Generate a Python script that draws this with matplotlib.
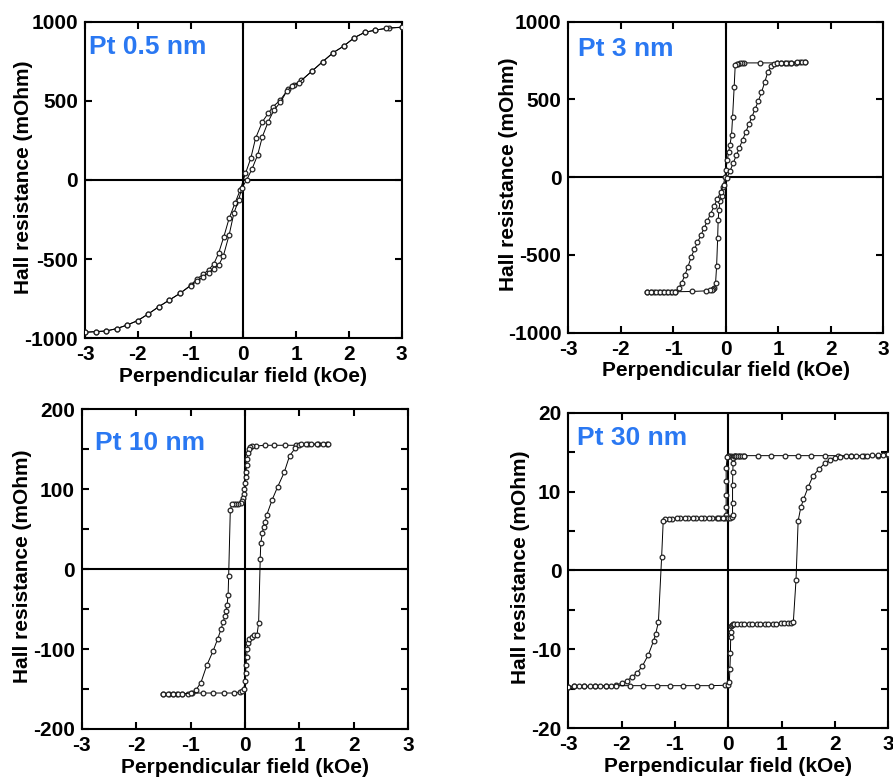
import matplotlib
matplotlib.use("Agg")
import matplotlib.pyplot as plt
from matplotlib.ticker import MultipleLocator

plt.rcParams["font.family"] = ["Liberation Sans", "DejaVu Sans"]
plt.rcParams["font.weight"] = "bold"
plt.rcParams["axes.unicode_minus"] = False

# ---- Pt 0.5 nm ----
p05_down_x = [3.0, 2.75, 2.5, 2.3, 2.1, 1.9, 1.7, 1.5, 1.3, 1.1, 0.95, 0.85, 0.7, 0.56, 0.47,
              0.36, 0.23, 0.14, 0.04, -0.06, -0.16, -0.27, -0.37, -0.47, -0.56, -0.66, -0.76,
              -0.88, -1.0, -1.2, -1.4, -1.6, -1.8, -2.0, -2.2, -2.4, -2.6, -2.8, -3.0]
p05_down_y = [964, 960, 947, 933, 899, 846, 804, 747, 688, 630, 598, 575, 505, 463, 421,
              368, 263, 137, 42, -63, -147, -242, -358, -463, -530, -568, -595,
              -625, -665, -716, -758, -800, -846, -888, -916, -939, -954, -958, -962]
p05_up_x = [-3.0, -2.8, -2.6, -2.4, -2.2, -2.0, -1.8, -1.6, -1.4, -1.2, -1.0, -0.88, -0.76, -0.66,
            -0.56, -0.47, -0.38, -0.27, -0.18, -0.09, -0.03, 0.06, 0.16, 0.27, 0.36, 0.47, 0.58,
            0.7, 0.82, 0.92, 1.05, 1.3, 1.5, 1.7, 1.9, 2.1, 2.3, 2.5, 2.7, 3.0]
p05_up_y = [-962, -958, -954, -939, -916, -888, -846, -800, -758, -716, -668, -640, -610, -585,
            -560, -540, -480, -347, -210, -126, -52, 0, 67, 158, 274, 368, 442,
            490, 560, 595, 615, 688, 747, 804, 846, 899, 933, 947, 958, 966]

# ---- Pt 3 nm ----
p3_down_x = [1.5, 1.42, 1.33, 1.25, 1.18, 1.12, 1.05, 0.98, 0.65, 0.35, 0.3, 0.27, 0.24, 0.21,
             0.18, 0.16, 0.13, 0.11, 0.08, 0.055, 0.03, 0.0, -0.015, -0.05, -0.08, -0.11, -0.13,
             -0.145, -0.155, -0.175, -0.195, -0.22, -0.25, -0.27, -0.3, -0.37, -0.65, -0.97,
             -1.05, -1.12, -1.2, -1.28, -1.36, -1.43, -1.5]
p3_down_y = [738, 738, 737, 737, 737, 736, 736, 735, 735, 735, 734, 733, 731, 728,
             722, 583, 390, 272, 208, 165, 111, 47, 4, -60, -124, -156, -210,
             -274, -392, -574, -682, -714, -720, -725, -728, -731, -735, -737,
             -737, -737, -738, -738, -738, -738, -738]
p3_up_x = [-1.5, -1.42, -1.33, -1.25, -1.18, -1.1, -1.02, -0.96, -0.9, -0.84, -0.78, -0.72, -0.66,
           -0.6, -0.54, -0.47, -0.41, -0.35, -0.29, -0.22, -0.16, -0.1, -0.04, 0.02, 0.08, 0.14,
           0.2, 0.26, 0.32, 0.38, 0.44, 0.5, 0.56, 0.62, 0.68, 0.74, 0.8, 0.86, 0.92, 0.98, 1.05,
           1.15, 1.25, 1.35, 1.45, 1.5]
p3_up_y = [-738, -738, -738, -738, -737, -737, -737, -736, -715, -680, -630, -575, -515,
           -465, -420, -370, -325, -280, -235, -185, -140, -95, -50, -5, 40, 90,
           140, 190, 240, 290, 340, 390, 440, 490, 545, 610, 675, 712, 728, 734, 736,
           737, 737, 738, 738, 738]

# ---- Pt 10 nm ----
p10_down_x = [1.5, 1.35, 1.15, 0.94, 0.74, 0.54, 0.36, 0.2, 0.12, 0.09, 0.07, 0.05, 0.04, 0.03,
              0.02, 0.01, 0.0, -0.01, -0.02, -0.03, -0.05, -0.08, -0.12, -0.16, -0.2, -0.24, -0.27,
              -0.3, -0.31, -0.33, -0.35, -0.37, -0.4, -0.44, -0.5, -0.59, -0.7, -0.81, -0.9, -0.98,
              -1.05, -1.15, -1.25, -1.32, -1.4, -1.5]
p10_down_y = [156, 156, 156, 155, 155, 155, 155, 154, 154, 153, 150, 145, 138, 130,
              122, 115, 108, 100, 94, 89, 85, 83, 82, 82, 82, 82, 74,
              -8, -32, -45, -52, -59, -66, -75, -87, -103, -120, -142, -151, -155,
              -156, -156, -156, -156, -156, -156]
p10_up_x = [-1.51, -1.42, -1.33, -1.24, -1.15, -0.99, -0.78, -0.59, -0.38, -0.2, -0.1, -0.06,
            -0.02, 0.0, 0.01, 0.02, 0.03, 0.04, 0.06, 0.08, 0.12, 0.17, 0.22, 0.25, 0.28, 0.29,
            0.32, 0.34, 0.37, 0.4, 0.5, 0.6, 0.72, 0.82, 0.92, 1.0, 1.03, 1.12, 1.22, 1.32, 1.43, 1.52]
p10_up_y = [-156, -156, -156, -156, -156, -155, -155, -155, -155, -155, -154, -153,
            -150, -140, -130, -120, -110, -100, -93, -88, -85, -83, -82, -68, 13, 33,
            45, 53, 59, 68, 87, 103, 121, 142, 151, 155, 156, 156, 156, 157, 157, 157]

# ---- Pt 30 nm ----
p30_down_x = [3.0, 2.8, 2.55, 2.3, 2.06, 1.81, 1.56, 1.31, 1.06, 0.81, 0.56, 0.3, 0.2, 0.12, 0.06,
              0.02, 0.0, -0.02, -0.04, -0.04, -0.04, -0.04, -0.04, -0.045, -0.08, -0.15, -0.22,
              -0.3, -0.37, -0.45, -0.52, -0.6, -0.67, -0.75, -0.82, -0.9, -0.97, -1.05, -1.12,
              -1.18, -1.22, -1.25, -1.31, -1.36, -1.4, -1.5, -1.61, -1.71, -1.81, -1.9, -2.0, -2.1,
              -2.3, -2.5, -2.7, -2.9, -3.0]
p30_down_y = [14.6, 14.55, 14.55, 14.55, 14.55, 14.55, 14.55, 14.55, 14.55, 14.55, 14.55, 14.55,
              14.55, 14.55, 14.5, 14.5, 14.5, 14.4, 13.0, 11.3, 9.6, 8.1, 7.0, 6.7, 6.65, 6.65,
              6.65, 6.65, 6.65, 6.65, 6.65, 6.65, 6.65, 6.6, 6.6, 6.6, 6.6, 6.55, 6.55,
              6.5, 6.3, 1.7, -6.5, -8.0, -8.9, -10.7, -12.1, -13.0, -13.5, -14.0, -14.3, -14.5,
              -14.6, -14.65, -14.7, -14.7, -14.75]
p30_up_x = [-3.0, -2.9, -2.8, -2.7, -2.6, -2.5, -2.4, -2.3, -2.2, -2.1, -1.84, -1.59, -1.34, -1.09,
            -0.84, -0.59, -0.33, -0.06, 0.0, 0.02, 0.03, 0.04, 0.045, 0.05, 0.06, 0.075, 0.09,
            0.1, 0.16, 0.23, 0.3, 0.38, 0.45, 0.53, 0.6, 0.68, 0.75, 0.83, 0.9, 0.98, 1.05, 1.12,
            1.17, 1.22, 1.27, 1.31, 1.36, 1.41, 1.5, 1.59, 1.71, 1.81, 1.9, 2.0, 2.1, 2.2, 2.3,
            2.4, 2.5, 2.6, 2.7, 2.8, 2.9, 3.0]
p30_up_y = [-14.75, -14.7, -14.7, -14.7, -14.7, -14.65, -14.65, -14.65, -14.65, -14.6, -14.6,
            -14.6, -14.6, -14.6, -14.6, -14.6, -14.6, -14.55, -14.5, -14.1, -12.5, -10.5, -8.4,
            -7.8, -7.1, -6.9, -6.8, -6.75, -6.75, -6.75, -6.75, -6.75, -6.75, -6.75, -6.75,
            -6.75, -6.75, -6.75, -6.75, -6.7, -6.7, -6.7, -6.65, -6.5, -1.2, 6.3, 8.0, 9.0,
            10.6, 12.0, 12.9, 13.6, 14.0, 14.3, 14.4, 14.45, 14.5, 14.5, 14.55, 14.55, 14.6,
            14.6, 14.65, 14.7]
p30_minor_x = [-0.2, -0.1, 0.0, 0.04, 0.07, 0.08, 0.08, 0.08, 0.085, 0.09, 0.09, 0.1, 0.12,
               0.15, 0.18, 0.22, 0.26, 0.3]
p30_minor_y = [6.6, 6.6, 6.65, 6.7, 6.8, 7.0, 8.5, 10.8, 12.5, 13.6, 14.2, 14.5, 14.55,
               14.55, 14.55, 14.55, 14.55, 14.55]

# label, axes rect, y range, major, minor, curves, tag position, ylabel x
panels = [
    ("Pt 0.5 nm", [0.0952, 0.5652, 0.3547, 0.4069], 1000, 500, 500,
     [(p05_down_x, p05_down_y), (p05_up_x, p05_up_y)], (0.013, 0.92), -0.164),
    ("Pt 3 nm", [0.6364, 0.5724, 0.3527, 0.3997], 1000, 500, 500,
     [(p3_down_x, p3_down_y), (p3_up_x, p3_up_y)], (0.031, 0.912), -0.159),
    ("Pt 10 nm", [0.0915, 0.0630, 0.3657, 0.4109], 200, 100, 50,
     [(p10_down_x, p10_down_y), (p10_up_x, p10_up_y)], (0.041, 0.894), -0.153),
    ("Pt 30 nm", [0.6364, 0.0639, 0.3583, 0.4057], 20, 10, 5,
     [(p30_down_x, p30_down_y), (p30_up_x, p30_up_y), (p30_minor_x, p30_minor_y)],
     (0.026, 0.919), -0.12),
]

fig = plt.figure(figsize=(8.93, 7.78), dpi=100)

for label, rect, ylim, ymajor, yminor, series, txt_pos, ylab_x in panels:
    ax = fig.add_axes(rect)
    ax.axhline(0, color="black", lw=1.5, zorder=1)
    ax.axvline(0, color="black", lw=1.5, zorder=1)
    for xs, ys in series:
        ax.plot(xs, ys, "-o", color="black", lw=0.7, ms=3.4, mfc="white",
                mec="#222222", mew=0.9, zorder=3)
    ax.set_xlim(-3, 3)
    ax.set_ylim(-ylim, ylim)
    ax.xaxis.set_major_locator(MultipleLocator(1))
    ax.yaxis.set_major_locator(MultipleLocator(ymajor))
    ax.yaxis.set_minor_locator(MultipleLocator(yminor))
    ax.tick_params(which="both", direction="in", top=True, right=True,
                   width=1.5, length=5, labelsize=15, pad=5)
    for s in ax.spines.values():
        s.set_linewidth(1.5)
    ax.set_xlabel("Perpendicular field (kOe)", fontsize=15, fontweight="bold", labelpad=2)
    ax.set_ylabel("Hall resistance (mOhm)", fontsize=15, fontweight="bold")
    ax.yaxis.set_label_coords(ylab_x, 0.51)
    ax.text(txt_pos[0], txt_pos[1], label, transform=ax.transAxes, color="#2a78f2",
            fontsize=19, fontweight="bold", va="center", ha="left")

fig.savefig("out.png", dpi=100)
